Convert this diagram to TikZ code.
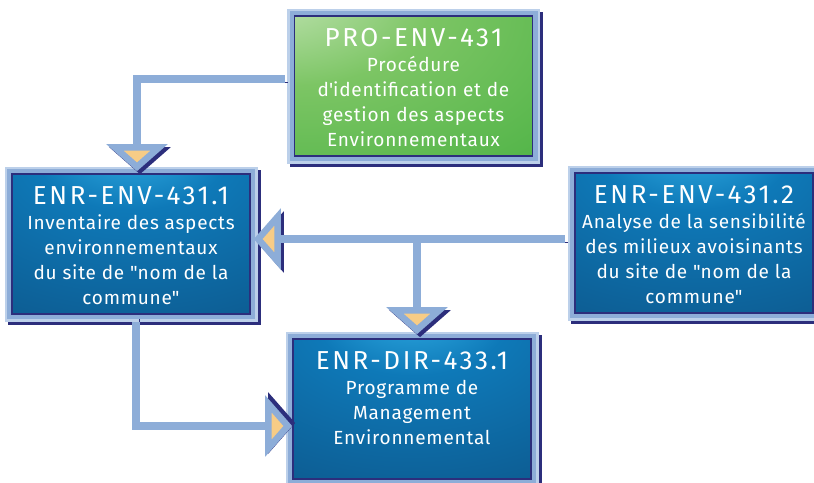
\documentclass[tikz,border=0pt]{standalone}
\usepackage{fontspec}
\setmainfont{Fira Sans}
\usepackage{xcolor}
\usetikzlibrary{
    calc,
    positioning,
    arrows.meta
}

\definecolor{my-frame}{HTML}{8DADD8}
\definecolor{my-framehi}{HTML}{BCD0EA}
\definecolor{my-navy}{HTML}{2C2E7C}
\definecolor{my-tip}{HTML}{F7CC86}
\definecolor{my-bluehi}{HTML}{35B4EA}
\definecolor{my-bluemid}{HTML}{0E79B8}
\definecolor{my-bluelow}{HTML}{0D5A8F}
\definecolor{my-bluedark}{HTML}{243F70}
\definecolor{my-greenhi}{HTML}{D2EBC6}
\definecolor{my-greenmid}{HTML}{7CC564}
\definecolor{my-greenlow}{HTML}{3CAC3A}

\pgfdeclareradialshading{bluebox}{\pgfpoint{0bp}{40bp}}{color(0bp)=(my-bluehi); color(20bp)=(my-bluemid); color(55bp)=(my-bluelow); color(100bp)=(my-bluedark)}
\pgfdeclareradialshading{greenbox}{\pgfpoint{-35bp}{40bp}}{color(0bp)=(my-greenhi); color(30bp)=(my-greenmid); color(80bp)=(my-greenlow); color(120bp)=(my-greenlow)}

% title on top, body below
\newcommand{\boxtext}[2]{\parbox[c][140pt][t]{238pt}{\centering
    \fontsize{26}{26}\selectfont\addfontfeatures{LetterSpace=10}\rule{0pt}{30pt}#1\par
    \fontsize{19}{25}\selectfont\addfontfeatures{LetterSpace=4}#2}}

\begin{document}
\begin{tikzpicture}[
    x=1pt, y=-1pt,
    docbox/.style={
        shade, shading=bluebox,
        draw=my-navy, line width=1.6pt,
        minimum width=238pt, minimum height=140pt,
        inner sep=0pt, text=white,
        preaction={draw=my-navy, line width=15pt, transform canvas={shift={(3pt,-3pt)}}},
        preaction={draw=my-framehi, line width=15pt},
        preaction={draw=my-frame, line width=10pt}
    }, wire/.style={
        draw=my-frame, line width=8pt,
        -{Triangle[width=60pt, length=27pt, line width=6.5pt, fill=my-tip]},
        preaction={draw=my-navy, transform canvas={shift={#1}}}
    }, wire/.default={(3pt,-3pt)}]

    \useasboundingbox (0,0) rectangle (814,482);

    \node[docbox, shading=greenbox] (pro) at (413.5,86) {\boxtext{PRO-ENV-431}{Procédure\\d\textquotesingle identification et de\\gestion des aspects\\Environnementaux}};
    \node[docbox] (inv) at (131,244) {\boxtext{ENR-ENV-431.1}{Inventaire des aspects\\environnementaux\\du site de \textquotedbl nom de la\\commune\textquotedbl}};
    \node[docbox] (ana) at (694,243) {\boxtext{ENR-ENV-431.2}{Analyse de la sensibilité\\des milieux avoisinants\\du site de \textquotedbl nom de la\\commune\textquotedbl}};
    \node[docbox] (prog) at (412,409) {\boxtext{ENR-DIR-433.1}{Programme de\\Management\\Environnemental}};

    \coordinate (fork) at ($(prog.north |- ana.west)+(5,-4)$);

    \draw[wire] ($(pro.west)+(-9,-7)$) -| ($(inv.north)+(6,-2)$);
    \draw[wire] ($(ana.west)+(-9,-4)$) -- ($(inv.east)+(3,-5)$);
    \draw[wire] (fork) -- ($(prog.north)+(5,-4)$);
    \draw[wire={(3pt,3pt)}] ($(inv.south)+(5,7)$) |- ($(prog.west)+(0,17)$);

\end{tikzpicture}
\end{document}
